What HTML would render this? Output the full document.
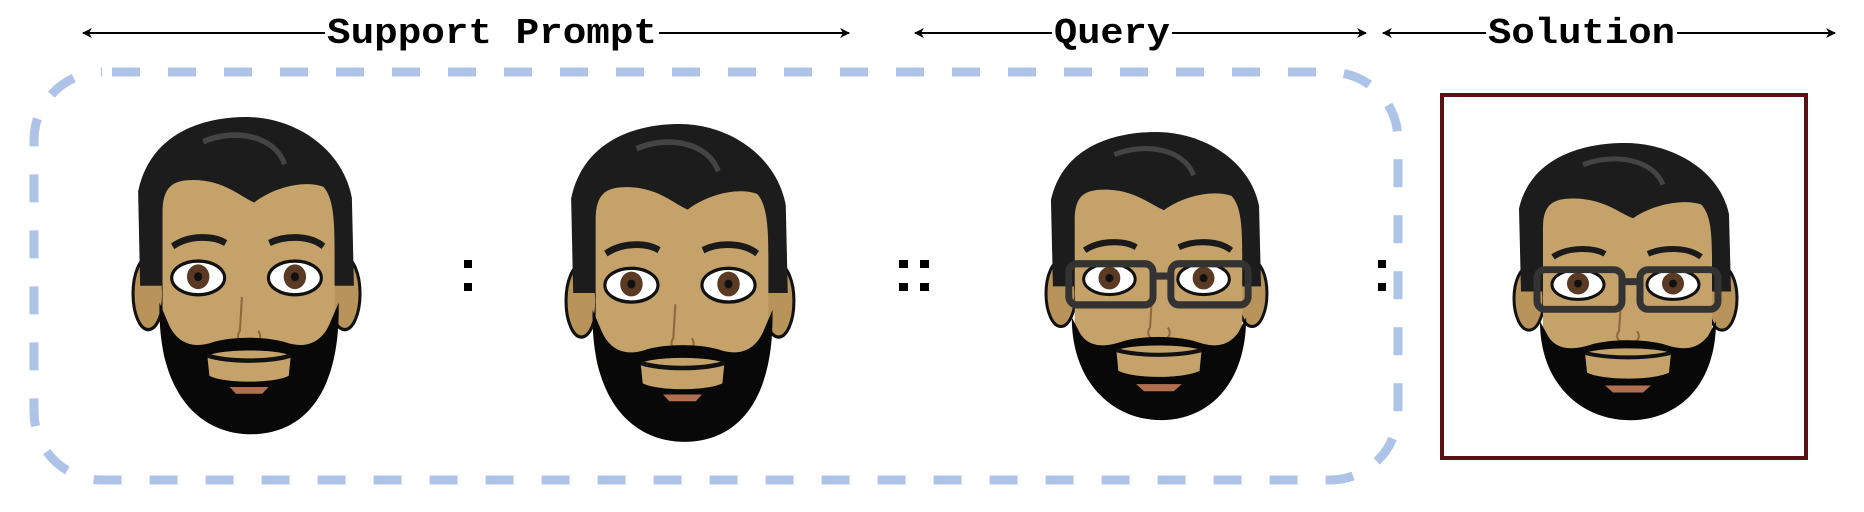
<!DOCTYPE html>
<html><head><meta charset="utf-8"><style>
html,body{margin:0;padding:0;background:#fff;}
svg{display:block}
</style></head><body>
<svg width="1864" height="512" viewBox="0 0 1864 512" xmlns="http://www.w3.org/2000/svg">
<defs>
<marker id="ah" viewBox="0 0 10 10" refX="9" refY="5" markerWidth="10" markerHeight="10" markerUnits="userSpaceOnUse" orient="auto-start-reverse">
<path d="M0,0 L10,5 L0,10 L3,5 Z" fill="#000"/>
</marker>
<g id="base">
  <ellipse cx="16" cy="157" rx="15" ry="32" fill="#b8935a" stroke="#111" stroke-width="3"/>
  <ellipse cx="209" cy="157" rx="15" ry="32" fill="#b8935a" stroke="#111" stroke-width="3"/>
  <path d="M8,150 L6,66 C18,14 70,0 112,0 C160,0 207,28 216,72 L218,150 Z" fill="#1c1c1c"/>
  <path d="M70,22 C100,10 140,16 150,42" stroke="#444" stroke-width="5" fill="none"/>
  <path d="M30,85 C30,62 40,56 60,56 C90,56 105,70 120,76 C140,62 170,56 188,62 C198,72 199,92 199,120 L199,200 C199,240 160,260 115,260 C70,260 30,240 30,200 Z" fill="#c4a269"/>
  <path d="M40,115 C55,105 80,105 92,112" stroke="#1a1a1a" stroke-width="6" fill="none"/>
  <path d="M135,112 C150,105 175,105 188,115" stroke="#1a1a1a" stroke-width="6" fill="none"/>
  <ellipse cx="65" cy="143" rx="26" ry="15" fill="#fff" stroke="#111" stroke-width="3"/>
  <ellipse cx="160" cy="143" rx="26" ry="15" fill="#fff" stroke="#111" stroke-width="3"/>
  <circle cx="65" cy="142" r="11" fill="#5a3a22"/>
  <circle cx="160" cy="142" r="11" fill="#5a3a22"/>
  <circle cx="65" cy="142" r="4" fill="#111"/>
  <circle cx="160" cy="142" r="4" fill="#111"/>
  <path d="M108,160 L106,190 C100,198 110,205 115,200 C120,205 130,198 124,190" stroke="#8a6a3a" stroke-width="2" fill="none"/>
</g>
<g id="beardS">
  <path d="M27,180 C27,245 70,280 117,280 C165,280 203,245 203,180 L195,195 C182,212 165,208 150,203 C130,198 100,198 80,203 C65,208 45,212 35,195 Z" fill="#080808"/>
  <path d="M72,212 C90,206 140,206 158,212 L156,232 C140,240 90,240 74,232 Z" fill="#c4a269"/>
  <path d="M72,212 C95,218 135,218 158,212" stroke="#111" stroke-width="4" fill="none"/>
  <path d="M92,245 L138,245 L130,252 L100,252 Z" fill="#b07050"/>
</g>
<g id="beardL">
  <path d="M27,165 C25,250 70,282 117,282 C165,282 205,250 203,165 L195,182 C185,205 165,205 150,200 C130,195 100,195 80,200 C65,205 45,205 35,182 Z" fill="#080808"/>
  <path d="M74,212 C90,206 140,206 156,212 L154,230 C140,237 90,237 76,230 Z" fill="#c4a269"/>
  <path d="M74,212 C95,218 135,218 156,212" stroke="#111" stroke-width="4" fill="none"/>
  <path d="M96,240 L134,240 L128,246 L102,246 Z" fill="#b07050"/>
</g>
<g id="glasses" fill="none" stroke="#333" stroke-width="7">
  <rect x="24" y="128" width="85" height="40" rx="8"/>
  <rect x="127" y="128" width="78" height="40" rx="8"/>
  <path d="M109,140 L127,140"/>
</g>
</defs>

<line x1="83" y1="33" x2="849" y2="33" stroke="#000" stroke-width="2" marker-start="url(#ah)" marker-end="url(#ah)"/>
<line x1="915" y1="33" x2="1366" y2="33" stroke="#000" stroke-width="2" marker-start="url(#ah)" marker-end="url(#ah)"/>
<line x1="1383" y1="33" x2="1835" y2="33" stroke="#000" stroke-width="2" marker-start="url(#ah)" marker-end="url(#ah)"/>
<g font-family="'Liberation Mono', monospace" font-weight="bold" font-size="36" fill="#000">
  <rect x="325" y="12" width="334" height="36" fill="#fff"/>
  <text x="327" y="43" textLength="330" lengthAdjust="spacingAndGlyphs">Support Prompt</text>
  <rect x="1052" y="12" width="120" height="36" fill="#fff"/>
  <text x="1054" y="43" textLength="116" lengthAdjust="spacingAndGlyphs">Query</text>
  <rect x="1486" y="12" width="191" height="36" fill="#fff"/>
  <text x="1488" y="43" textLength="187" lengthAdjust="spacingAndGlyphs">Solution</text>
</g>

<rect x="34" y="72" width="1364" height="408" rx="68" ry="68" fill="none" stroke="#aec3e8" stroke-width="9" stroke-dasharray="28 28" stroke-dashoffset="-10"/>

<rect x="1442" y="95" width="364" height="363" fill="none" stroke="#5a1010" stroke-width="4"/>

<g fill="#000">
  <rect x="464" y="260" width="8" height="8"/><rect x="464" y="283" width="8" height="8"/>
  <rect x="899" y="260" width="9" height="8"/><rect x="899" y="283" width="9" height="8"/>
  <rect x="920" y="260" width="9" height="8"/><rect x="920" y="283" width="9" height="8"/>
  <rect x="1378" y="260" width="8" height="8"/><rect x="1378" y="283" width="8" height="8"/>
</g>

<g transform="translate(132,117) scale(1.018,1.125)"><use href="#base"/><use href="#beardL"/></g>
<g transform="translate(565,124) scale(1.022,1.127)"><use href="#base"/><use href="#beardL"/></g>
<g transform="translate(1045,132) scale(0.991,1.029)"><use href="#base"/><use href="#beardS"/><use href="#glasses"/></g>
<g transform="translate(1513,143) scale(1,0.99)"><use href="#base"/><use href="#beardS"/><use href="#glasses"/></g>
</svg>
</body></html>
